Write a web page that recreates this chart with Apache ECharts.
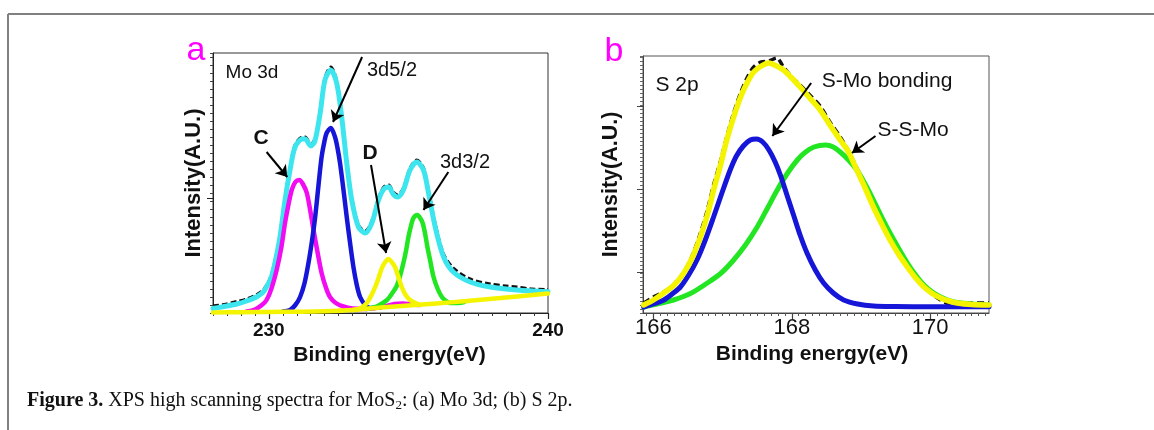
<!DOCTYPE html>
<html><head><meta charset="utf-8">
<script src="https://cdn.jsdelivr.net/npm/echarts@6/dist/echarts.min.js"></script>
<style>html,body{margin:0;padding:0;background:#fff}#c{width:1154px;height:430px}</style>
</head><body><div id="c"></div>
<script>
// ---------- Panel a: Mo 3d (binding energy eV, intensity a.u.) ----------
const xTicksA = [230, 240];
const rawA = [[228.0,7],[228.4,8.5],[228.85,11.5],[229.2,14],[229.57,18.5],[229.8,23],[229.92,28],[230.05,35],[230.16,45],[230.28,60],[230.40,78],[230.58,115],[230.76,145],[230.94,168],[231.2,176],[231.3,176],[231.5,169],[231.65,174],[231.84,202],[232.01,235],[232.22,246],[232.43,232],[232.61,198],[232.79,152],[232.97,115],[233.21,88],[233.45,82],[233.69,92],[233.93,115],[234.12,126],[234.3,128],[234.45,121],[234.62,118],[234.82,125],[235.06,145],[235.30,153],[235.54,145],[235.72,122],[235.96,89],[236.26,59],[236.61,45],[237.21,34],[237.93,29],[238.5,27],[238.88,26],[239.4,24],[240.0,23.5]];
const envelopeA = [[228.0,4.5],[228.4,6.5],[228.85,9],[229.2,12],[229.57,16.3],[229.8,21],[229.92,26.3],[230.05,33],[230.16,43],[230.28,58],[230.40,76],[230.58,113],[230.76,143],[230.94,166],[231.2,174],[231.3,174],[231.5,167],[231.65,172],[231.84,200],[232.01,233],[232.22,243],[232.43,230],[232.61,196],[232.79,150],[232.97,113],[233.21,86],[233.45,80],[233.69,90],[233.93,113],[234.12,124],[234.3,126],[234.45,119],[234.62,116],[234.82,123],[235.06,143],[235.30,151],[235.54,143],[235.72,120],[235.96,86],[236.26,56],[236.61,41],[237.21,31],[237.93,26],[238.88,23],[240.0,21.3]];
const peakC = [[229.2,1.5],[229.5,3.5],[229.75,8],[229.92,13],[230.1,25],[230.28,43],[230.45,66],[230.58,90],[230.7,108],[230.82,123],[230.95,131],[231.09,133],[231.22,129],[231.36,120],[231.48,103],[231.60,83],[231.75,60],[231.89,40],[232.05,25],[232.19,16],[232.4,10],[232.67,6.5],[233.0,4.5],[233.4,4],[233.8,5],[234.2,7],[234.5,9],[234.8,9.5],[235.1,8.5],[235.4,8]];
const peak3d52 = [[230.5,1.5],[230.76,3],[230.95,8],[231.12,16],[231.28,30],[231.42,50],[231.55,73],[231.66,96],[231.78,128],[231.89,156],[231.98,170],[232.07,180],[232.22,185],[232.37,176],[232.46,165],[232.55,150],[232.67,124],[232.79,96],[232.91,70],[233.03,46],[233.15,28],[233.27,16],[233.45,8],[233.63,5],[234.0,5.5]];
const peakD = [[233.0,3],[233.3,5],[233.51,10],[233.66,17],[233.81,26],[233.93,35],[234.05,45],[234.17,51],[234.28,54],[234.40,51],[234.52,46],[234.64,36],[234.76,26],[234.9,18],[235.06,13],[235.25,10],[235.42,8]];
const peak3d32 = [[233.5,4],[233.9,7],[234.23,13],[234.45,21],[234.58,27],[234.70,37],[234.82,50],[234.92,63],[235.0,76],[235.10,88],[235.18,95],[235.32,98],[235.42,95],[235.51,90],[235.60,79],[235.68,66],[235.79,51],[235.90,36],[236.05,24],[236.20,16],[236.35,12],[236.49,10],[236.8,10],[237.0,11]];
const backgroundA = [[228.0,0.5],[229.0,0.8],[230.0,1.0],[231.0,1.3],[232.0,1.8],[233.0,3.0],[234.0,5.5],[235.0,7.5],[236.0,9.5],[237.0,11.8],[238.0,14.2],[239.0,16.8],[240.0,19.5]];

// ---------- Panel b: S 2p ----------
const xTicksB = [166, 168, 170];
const rawB = [[165.86,10],[166.0,16],[166.15,21],[166.3,29],[166.44,41],[166.56,57],[166.68,80],[166.78,103],[166.87,128],[166.97,152],[167.06,176],[167.16,200],[167.26,220],[167.36,236],[167.45,246],[167.56,251],[167.67,252],[167.78,255],[167.88,246],[168.0,236],[168.12,228],[168.26,218],[168.41,207],[168.56,190],[168.70,176],[168.82,162],[168.94,145],[169.06,128],[169.18,108],[169.30,90],[169.42,76],[169.55,60],[169.67,48],[169.79,36],[169.91,27],[170.03,19],[170.15,13],[170.27,9],[170.39,8],[170.6,10],[170.85,10]];
const envelopeB = [[165.86,8],[166.0,13],[166.15,20],[166.3,28],[166.44,40],[166.56,55],[166.68,76],[166.78,98],[166.87,123],[166.97,148],[167.06,173],[167.16,196],[167.26,216],[167.36,231],[167.45,241],[167.56,247],[167.67,250],[167.78,247],[167.88,243],[168.0,235],[168.12,226],[168.26,215],[168.41,203],[168.56,187],[168.70,173],[168.82,161],[168.94,143],[169.06,125],[169.18,106],[169.30,89],[169.42,73],[169.55,58],[169.67,46],[169.79,35],[169.91,26],[170.03,19.5],[170.15,15],[170.27,12],[170.39,10],[170.6,8.5],[170.85,8]];
const peakSMo = [[165.86,6],[166.0,9],[166.15,13],[166.27,19],[166.39,26],[166.51,38],[166.63,53],[166.75,73],[166.87,96],[166.99,120],[167.11,143],[167.2,157],[167.30,167],[167.40,173],[167.49,174],[167.58,171],[167.67,163],[167.76,151],[167.84,137],[167.93,118],[168.03,97],[168.12,78],[168.22,60],[168.34,43],[168.46,30],[168.6,20],[168.75,13],[168.95,9],[169.18,7],[169.5,6.5],[170.0,6.3],[170.85,6.3]];
const peakSSMo = [[165.86,6],[166.05,9],[166.29,13],[166.55,20],[166.78,30],[166.98,40],[167.16,53],[167.33,68],[167.50,86],[167.65,105],[167.79,123],[167.94,140],[168.08,153],[168.2,161],[168.32,166],[168.49,168],[168.60,166],[168.70,161],[168.82,153],[168.94,143],[169.06,129],[169.18,113],[169.30,96],[169.42,80],[169.55,64],[169.67,50],[169.79,38],[169.91,28],[170.03,21],[170.15,16],[170.27,12.5],[170.39,10.5],[170.6,9],[170.85,8]];

// annotation arrows: [x1, y1, x2, y2] in data units (arrow head at end)
const arrowsA = [[229.92,161,230.66,136],[233.34,256,232.30,191],[233.66,148,234.20,60],[236.43,141,235.54,103]];
const arrowsB = [[168.28,230,167.72,177],[169.21,177,168.87,160]];

const SANS = "'Liberation Sans', Arial, Helvetica, sans-serif";
const SERIF = "'Liberation Serif', 'Times New Roman', serif";

const minorTicksB = [];
for (let i = 1659; i <= 1708; i++) minorTicksB.push(i / 10);

function curve(data, color, width, gi, extra) {
  return Object.assign({
    type: 'line', data: data, xAxisIndex: gi * 2, yAxisIndex: gi * 2,
    showSymbol: false, symbol: 'none', smooth: 0.3, silent: true, animation: false,
    lineStyle: { color: color, width: width, cap: 'round', join: 'round' }
  }, extra || {});
}
function arrows(list, gi) {
  return {
    type: 'line', xAxisIndex: gi * 2, yAxisIndex: gi * 2, data: [], silent: true, animation: false,
    markLine: {
      silent: true, animation: false, symbol: ['none', 'arrow'], symbolSize: 11,
      label: { show: false }, emphasis: { disabled: true },
      lineStyle: { color: '#000', width: 2, type: 'solid' },
      data: list.map(a => [{ coord: [a[0], a[1]] }, { coord: [a[2], a[3]] }])
    }
  };
}
function text(t, x, y, size, weight, color, family) {
  return { type: 'text', x: x, y: y, silent: true,
    style: { text: t, fill: color || '#111', fontSize: size, fontWeight: weight || 'normal',
      fontFamily: family || SANS, align: 'center', verticalAlign: 'middle' } };
}
const hidden = { show: false };

const option = {
  backgroundColor: '#fff',
  animation: false,
  grid: [
    { left: 213, top: 53, width: 335, height: 260, show: true, borderColor: '#333', borderWidth: 1 },
    { left: 643, top: 56, width: 346, height: 257, show: true, borderColor: '#555', borderWidth: 1 }
  ],
  xAxis: [
    { type: 'value', gridIndex: 0, position: 'bottom', min: 228, max: 240, interval: 0.5,
      axisLine: { lineStyle: { color: '#222', width: 1 } },
      axisTick: { show: true, length: 3, lineStyle: { color: '#333' } },
      axisLabel: { customValues: xTicksA, formatter: v => (xTicksA.indexOf(v) >= 0 ? String(v) : ''),
        fontFamily: SANS, fontWeight: 'bold', fontSize: 19, color: '#111', margin: 8 },
      splitLine: hidden,
      name: 'Binding energy(eV)', nameLocation: 'middle', nameGap: 28,
      nameTextStyle: { fontFamily: SANS, fontWeight: 'bold', fontSize: 21, color: '#111', padding: [0, 0, 0, 18] } },
    { type: 'value', gridIndex: 0, position: 'bottom', min: 228, max: 240,
      axisLine: hidden, axisLabel: hidden, splitLine: hidden,
      axisTick: { show: true, customValues: xTicksA, length: 6, lineStyle: { color: '#222', width: 1.2 } } },
    { type: 'value', gridIndex: 1, position: 'bottom', min: 165.85, max: 170.85,
      axisLine: { lineStyle: { color: '#444', width: 1 } },
      axisTick: { show: true, customValues: minorTicksB, length: 3, lineStyle: { color: '#555' } },
      axisLabel: { customValues: xTicksB, fontFamily: SANS, fontSize: 22, color: '#111', margin: 4 },
      splitLine: hidden,
      name: 'Binding energy(eV)', nameLocation: 'middle', nameGap: 23,
      nameTextStyle: { fontFamily: SANS, fontWeight: 'bold', fontSize: 21, color: '#111', padding: [0, 8, 0, 0] } },
    { type: 'value', gridIndex: 1, position: 'bottom', min: 165.85, max: 170.85,
      axisLine: hidden, axisLabel: hidden, splitLine: hidden,
      axisTick: { show: true, customValues: xTicksB, length: 6, lineStyle: { color: '#444', width: 1.2 } } }
  ],
  yAxis: [
    { type: 'value', gridIndex: 0, position: 'left', min: 0, max: 260, interval: 8,
      axisLine: { show: true, lineStyle: { color: '#222', width: 1 } },
      axisTick: { show: true, length: 3, lineStyle: { color: '#444' } },
      axisLabel: hidden, splitLine: hidden,
      name: 'Intensity(A.U.)', nameLocation: 'middle', nameGap: 8,
      nameTextStyle: { fontFamily: SANS, fontWeight: 'bold', fontSize: 22, color: '#111' } },
    { type: 'value', gridIndex: 0, position: 'left', min: 0, max: 260,
      axisLine: hidden, axisLabel: hidden, splitLine: hidden,
      axisTick: { show: true, customValues: [115], length: 6, lineStyle: { color: '#222' } } },
    { type: 'value', gridIndex: 1, position: 'left', min: 0, max: 257, interval: 4,
      axisLine: { show: true, lineStyle: { color: '#444', width: 1 } },
      axisTick: { show: true, length: 3, lineStyle: { color: '#666' } },
      axisLabel: hidden, splitLine: hidden,
      name: 'Intensity(A.U.)', nameLocation: 'middle', nameGap: 9,
      nameTextStyle: { fontFamily: SANS, fontWeight: 'bold', fontSize: 21.5, color: '#111', padding: [0, 0, 12, 0] } },
    { type: 'value', gridIndex: 1, position: 'left', min: 0, max: 257,
      axisLine: hidden, axisLabel: hidden, splitLine: hidden,
      axisTick: { show: true, customValues: [41, 124, 207], length: 6, lineStyle: { color: '#444' } } }
  ],
  series: [
    curve(rawA, '#111', 3, 0, { lineStyle: { color: '#111', width: 3, type: [6, 3] } }),
    curve(envelopeA, '#3de6ee', 5, 0),
    curve(peakC, '#f20cf2', 4.5, 0),
    curve(peak3d52, '#1616d8', 4.5, 0),
    curve(peak3d32, '#22e622', 4.5, 0),
    curve(peakD, '#f4f400', 4.5, 0),
    curve(backgroundA, '#f4f400', 4.5, 0),
    arrows(arrowsA, 0),
    curve(rawB, '#111', 3.5, 1, { lineStyle: { color: '#111', width: 3.5, type: [7, 4] } }),
    curve(peakSSMo, '#22e622', 5, 1),
    curve(peakSMo, '#1616d8', 5, 1),
    curve(envelopeB, '#f4f400', 5.5, 1),
    arrows(arrowsB, 1)
  ],
  graphic: [
    { type: 'line', silent: true, shape: { x1: 8, y1: 14, x2: 1154, y2: 14 }, style: { stroke: '#808080', lineWidth: 2 } },
    { type: 'line', silent: true, shape: { x1: 8, y1: 14, x2: 8, y2: 430 }, style: { stroke: '#808080', lineWidth: 2 } },
    text('a', 196, 51, 34, 'normal', '#ff00ff'),
    text('b', 614, 52, 34, 'normal', '#ff00ff'),
    text('Mo 3d', 252, 73, 19),
    text('3d5/2', 392, 70, 20),
    text('C', 261, 138, 21, 'bold'),
    text('D', 370, 153, 21, 'bold'),
    text('3d3/2', 465, 162, 20),
    text('S 2p', 677, 85, 21),
    text('S-Mo bonding', 887, 81, 21),
    text('S-S-Mo', 913, 130, 21),
    { type: 'text', x: 27, y: 401, silent: true,
      style: { text: '{b|Figure 3.} XPS high scanning spectra for MoS{s|2}: (a) Mo 3d; (b) S 2p.',
        fill: '#111', fontSize: 20, fontFamily: SERIF, align: 'left', verticalAlign: 'middle',
        rich: { b: { fontWeight: 'bold', fontSize: 20, fontFamily: SERIF, fill: '#111' },
                s: { fontSize: 13, fontFamily: SERIF, fill: '#111', padding: [9, 0, 0, 0] } } } }
  ]
};
const chart = echarts.init(document.getElementById('c'), null, { renderer: 'canvas' });
chart.setOption(option);
</script></body></html>
